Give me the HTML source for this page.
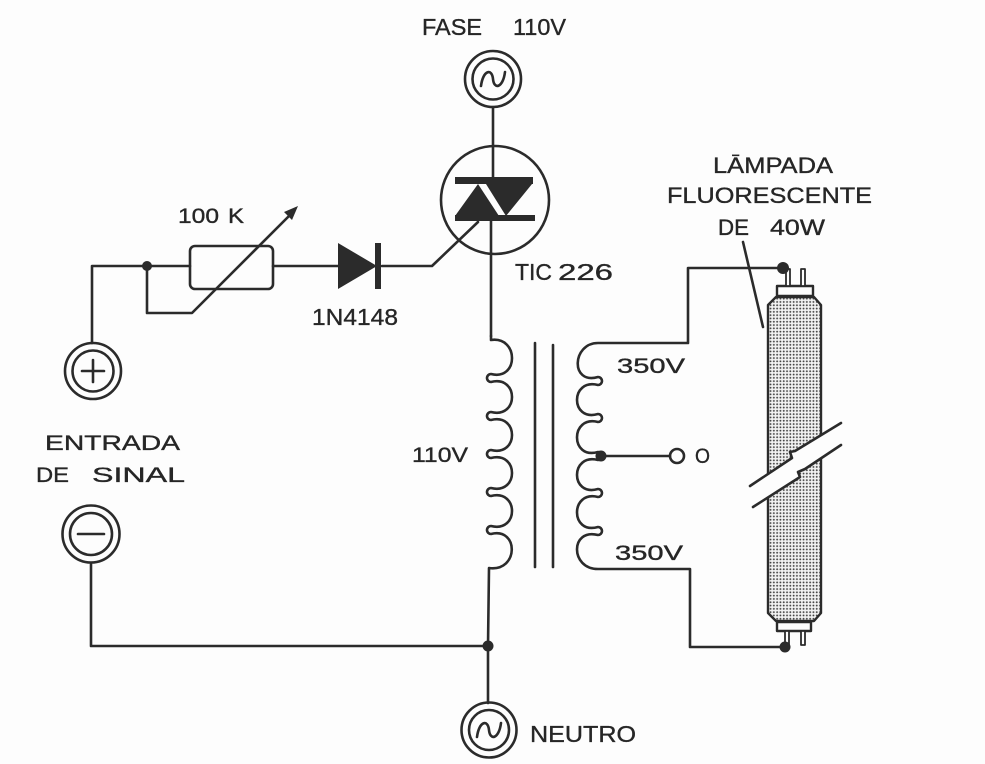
<!DOCTYPE html>
<html>
<head>
<meta charset="utf-8">
<style>
  html, body { margin:0; padding:0; background:#fdfdfd; }
  svg { display:block; }
  text { font-family:"Liberation Sans", "DejaVu Sans", sans-serif; fill:#262626; stroke:#262626; stroke-width:0.35; }
</style>
</head>
<body>
<svg width="985" height="764" viewBox="0 0 985 764" xmlns="http://www.w3.org/2000/svg">
  <defs>
    <pattern id="dots" x="0" y="0" width="3.3" height="3.3" patternUnits="userSpaceOnUse">
      <rect width="3.3" height="3.3" fill="#f2f2f2"/>
      <circle cx="1.65" cy="1.65" r="0.95" fill="#444"/>
    </pattern>
  </defs>
  <rect width="985" height="764" fill="#fdfdfd"/>

  <g stroke="#2b2b2b" stroke-width="2.6" fill="none" stroke-linecap="round" stroke-linejoin="round">
    <!-- FASE source -->
    <circle cx="493" cy="79" r="28"/>
    <circle cx="493" cy="79" r="20.5"/>
    <path d="M481,86 C483,70 492,68 493,79 C494,90 503,88 505,72"/>
    <line x1="493" y1="107" x2="493" y2="180"/>

    <!-- TRIAC -->
    <circle cx="495" cy="200" r="54"/>
    <line x1="491" y1="219" x2="491" y2="336"/>
    <!-- gate -->
    <polyline points="382,266 432,266 478,222"/>

    <!-- Left input wiring -->
    <polyline points="92,343 92,266 190,266"/>
    <polyline points="147,266 147,313 192,313 292,213"/>
    <rect x="190" y="246" width="83" height="43" rx="5" ry="5"/>
    <line x1="273" y1="266" x2="338" y2="266"/>

    <!-- + source -->
    <circle cx="93" cy="371" r="28"/>
    <circle cx="93" cy="371" r="20.5"/>
    <line x1="82" y1="371" x2="104" y2="371"/>
    <line x1="93" y1="360" x2="93" y2="382"/>

    <!-- - source -->
    <circle cx="91" cy="534" r="28.5"/>
    <circle cx="91" cy="534" r="21"/>
    <line x1="78" y1="534" x2="104" y2="534"/>
    <polyline points="91,563 91,646 489,646"/>

    <!-- Primary coil -->
    <path d="M491,336 L491,340
      C519,336 519,381 491,374
      A4,4 0 0 0 491,382
      C519,375 519,419 491,412
      A4,4 0 0 0 491,420
      C519,413 519,457 491,450
      A4,4 0 0 0 491,458
      C519,451 519,495 491,488
      A4,4 0 0 0 491,496
      C519,489 519,533 491,526
      A4,4 0 0 0 491,534
      C519,527 519,572 489,568
      L488,646 L488,703"/>

    <!-- Core -->
    <line x1="535" y1="343" x2="535" y2="567"/>
    <line x1="553" y1="345" x2="553" y2="567"/>

    <!-- Secondary coil -->
    <path d="M784,268 L688,268 L688,343 L598,343
      C572,343 570,385 598,377
      A4,4 0 0 1 598,385
      C570,378 570,422 598,414
      A4,4 0 0 1 598,422
      C570,415 570,460 598,452
      A4,4 0 0 1 598,460
      C570,453 570,497 598,489
      A4,4 0 0 1 598,497
      C570,490 570,535 598,527
      A4,4 0 0 1 598,535
      C570,528 570,569 598,569
      L690,569 L690,647 L785,647"/>

    <!-- center tap -->
    <line x1="601" y1="456" x2="670" y2="456"/>
    <circle cx="677" cy="456" r="7"/>

    <!-- Neutro source -->
    <circle cx="489" cy="730" r="27.5"/>
    <circle cx="489" cy="730" r="20"/>
    <path d="M477,737 C479,721 488,719 489,730 C490,741 499,739 501,723"/>

    <!-- label pointer -->
    <line x1="743" y1="242" x2="763" y2="327"/>
  </g>

  <!-- junction dots -->
  <g fill="#2b2b2b">
    <circle cx="147" cy="266" r="5"/>
    <circle cx="601" cy="456" r="5.5"/>
    <circle cx="488" cy="646" r="5.5"/>
    <!-- rheostat arrow head -->
    <polygon points="298,206 284,212 292,220"/>
    <!-- diode -->
    <polygon points="338,243 338,289 377,266"/>
    <rect x="375" y="243" width="6" height="46"/>
    <!-- triac -->
    <rect x="455" y="177" width="78" height="7"/>
    <rect x="455" y="215" width="80" height="6"/>
    <polygon points="455,216 478,184 499,216"/>
    <polygon points="486,184 532,184 506,216"/>
  </g>

  <!-- Lamp -->
  <g stroke="#2b2b2b" stroke-width="2.4" stroke-linejoin="round">
    <path d="M776,297 L814,297 L821,305 L821,613 L814,621 L776,621 L768,613 L768,305 Z" fill="url(#dots)"/>
    <rect x="777" y="286" width="36" height="10" fill="#fdfdfd"/>
    <rect x="777" y="622" width="34" height="9" fill="#fdfdfd"/>
    <rect x="786" y="269" width="4" height="17" fill="#fdfdfd" stroke-width="1.8"/>
    <rect x="801" y="269" width="4" height="17" fill="#fdfdfd" stroke-width="1.8"/>
    <rect x="785" y="631" width="4" height="14" fill="#fdfdfd" stroke-width="1.8"/>
    <rect x="801" y="631" width="4" height="14" fill="#fdfdfd" stroke-width="1.8"/>
  </g>
  <g fill="#2b2b2b">
    <circle cx="783" cy="268" r="6"/>
    <circle cx="785" cy="647" r="5.5"/>
  </g>
  <!-- break band -->
  <polygon points="750,486 792,458 790,452 795,451 842,422 842,445 805,469 798,472 800,477 753,507" fill="#fdfdfd"/>
  <g stroke="#2b2b2b" stroke-width="2.6" fill="none" stroke-linecap="round" stroke-linejoin="round">
    <polyline points="750,486 792,458 790,452 795,451 841,423"/>
    <polyline points="753,507 800,477 798,472 805,469 841,445"/>
  </g>

  <!-- Labels -->
  <g font-size="23">
    <text x="422" y="35" textLength="60" lengthAdjust="spacingAndGlyphs">FASE</text>
    <text x="513" y="35" textLength="53" lengthAdjust="spacingAndGlyphs">110V</text>
    <text x="515" y="280" textLength="37" lengthAdjust="spacingAndGlyphs">TIC</text>
    <text x="558" y="280" textLength="55" lengthAdjust="spacingAndGlyphs">226</text>
    <text x="312" y="325" textLength="86" lengthAdjust="spacingAndGlyphs">1N4148</text>
    <text x="530" y="742" textLength="106" lengthAdjust="spacingAndGlyphs">NEUTRO</text>
  </g>
  <g font-size="21">
    <text x="178" y="223" textLength="41" lengthAdjust="spacingAndGlyphs">100</text>
    <text x="228" y="223" textLength="16" lengthAdjust="spacingAndGlyphs">K</text>
    <text x="45" y="450" textLength="135" lengthAdjust="spacingAndGlyphs">ENTRADA</text>
    <text x="36" y="482" textLength="33" lengthAdjust="spacingAndGlyphs">DE</text>
    <text x="92" y="482" textLength="93" lengthAdjust="spacingAndGlyphs">SINAL</text>
    <text x="412" y="462" textLength="56" lengthAdjust="spacingAndGlyphs">110V</text>
    <text x="617" y="373" textLength="68" lengthAdjust="spacingAndGlyphs">350V</text>
    <text x="615" y="560" textLength="68" lengthAdjust="spacingAndGlyphs">350V</text>
    <text x="695" y="463" textLength="15" lengthAdjust="spacingAndGlyphs">O</text>
  </g>
  <g font-size="22">
    <text x="713" y="173" textLength="120" lengthAdjust="spacingAndGlyphs">LĀMPADA</text>
    <text x="667" y="203" textLength="205" lengthAdjust="spacingAndGlyphs">FLUORESCENTE</text>
    <text x="718" y="235" textLength="31" lengthAdjust="spacingAndGlyphs">DE</text>
    <text x="770" y="235" textLength="55" lengthAdjust="spacingAndGlyphs">40W</text>
  </g>
</svg>
</body>
</html>
